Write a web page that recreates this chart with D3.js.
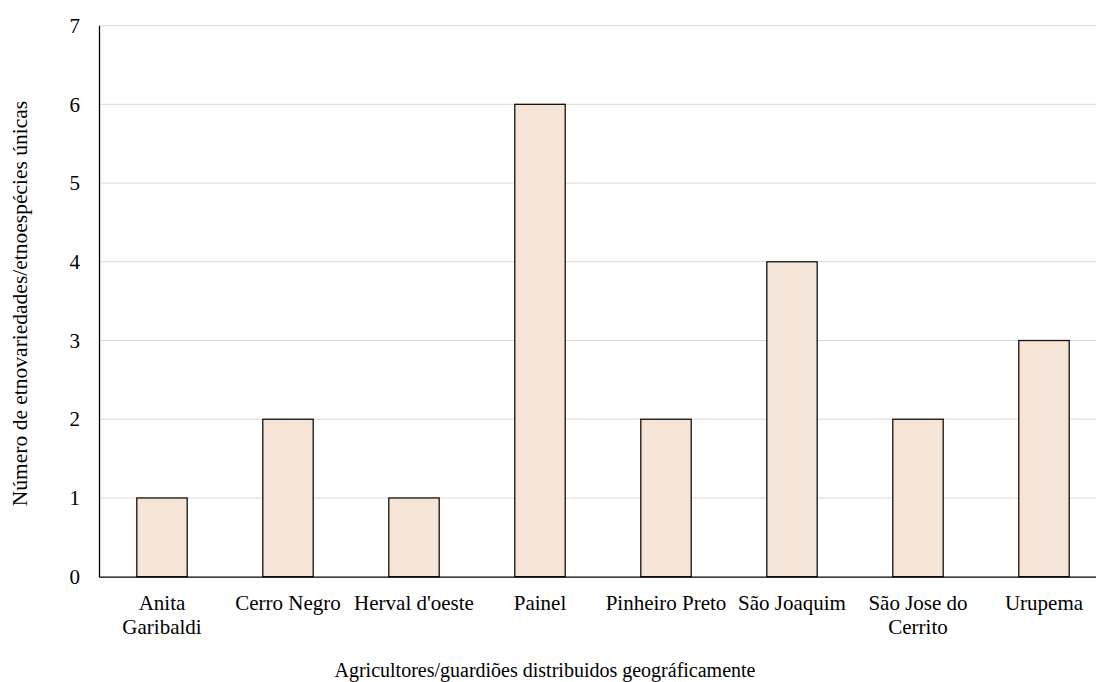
<!DOCTYPE html>
<html>
<head>
<meta charset="utf-8">
<script src="https://cdn.jsdelivr.net/npm/d3@7"></script>
<style>
  html, body { margin: 0; padding: 0; background: #fff; }
  svg { display: block; font-family: "Liberation Serif", "Times New Roman", serif; }
</style>
</head>
<body>
<svg id="chart" width="1096" height="682"></svg>
<script>
// Locations of the farmers / seed guardians
const categories = ["Anita Garibaldi", "Cerro Negro", "Herval d'oeste", "Painel",
                    "Pinheiro Preto", "São Joaquim", "São Jose do Cerrito", "Urupema"];
// Number of unique ethno-varieties / ethno-species per location
const values = [1, 2, 1, 6, 2, 4, 2, 3];
// Category labels split into lines
const tickLines = [["Anita", "Garibaldi"], ["Cerro Negro"], ["Herval d'oeste"], ["Painel"],
                   ["Pinheiro Preto"], ["São Joaquim"], ["São Jose do", "Cerrito"], ["Urupema"]];
const yTicks = [0, 1, 2, 3, 4, 5, 6, 7];

const svg = d3.select("#chart");
const plotLeft = 99, plotRight = 1107, plotTop = 25.6, plotBottom = 576.7;
const fontFamily = "Liberation Serif, Times New Roman, serif";

const x = d3.scaleBand().domain(categories).range([plotLeft, plotRight]).paddingInner(0.6).paddingOuter(0.3);
const y = d3.scaleLinear().domain([0, 7]).range([plotBottom, plotTop]);

// gridlines
svg.append("g").selectAll("line").data(yTicks.filter(d => d > 0)).join("line")
  .attr("x1", plotLeft).attr("x2", plotRight)
  .attr("y1", d => y(d)).attr("y2", d => y(d))
  .attr("stroke", "#d9d9d9").attr("stroke-width", 1);

// bars
svg.append("g").selectAll("rect").data(values).join("rect")
  .attr("x", (d, i) => x(categories[i]))
  .attr("y", d => y(d))
  .attr("width", x.bandwidth())
  .attr("height", d => y(0) - y(d))
  .attr("fill", "#f6e4d6")
  .attr("stroke", "#111")
  .attr("stroke-width", 1.3);

// y axis
const yAxis = d3.axisLeft(y).tickValues(yTicks).tickSize(0).tickPadding(19).tickFormat(d3.format("d"));
const gy = svg.append("g").attr("transform", `translate(${plotLeft},0)`).call(yAxis);
gy.attr("font-family", fontFamily).attr("font-size", 21);
gy.select(".domain").attr("stroke", "#000").attr("stroke-width", 1.3);
gy.selectAll("text").attr("fill", "#000");

// x axis
const xAxis = d3.axisBottom(x).tickSize(0).tickFormat("");
const gx = svg.append("g").attr("transform", `translate(0,${plotBottom})`).call(xAxis);
gx.attr("font-family", fontFamily).attr("font-size", 21);
gx.select(".domain").attr("stroke", "#000").attr("stroke-width", 1.3);
gx.selectAll(".tick").each(function(d, i) {
  const t = d3.select(this).append("text")
    .attr("text-anchor", "middle").attr("fill", "#000")
    .attr("y", 33);
  tickLines[i].forEach((line, k) => {
    t.append("tspan").attr("x", 0).attr("dy", k === 0 ? 0 : 24).text(line);
  });
});

// axis titles
svg.append("text")
  .attr("x", 545).attr("y", 677)
  .attr("text-anchor", "middle").attr("font-size", 20)
  .attr("font-family", fontFamily)
  .text("Agricultores/guardiões distribuidos geográficamente");

svg.append("text")
  .attr("transform", `translate(27,303.5) rotate(-90)`)
  .attr("text-anchor", "middle").attr("font-size", 21.5)
  .attr("font-family", fontFamily)
  .text("Número de etnovariedades/etnoespécies únicas");
</script>
</body>
</html>
